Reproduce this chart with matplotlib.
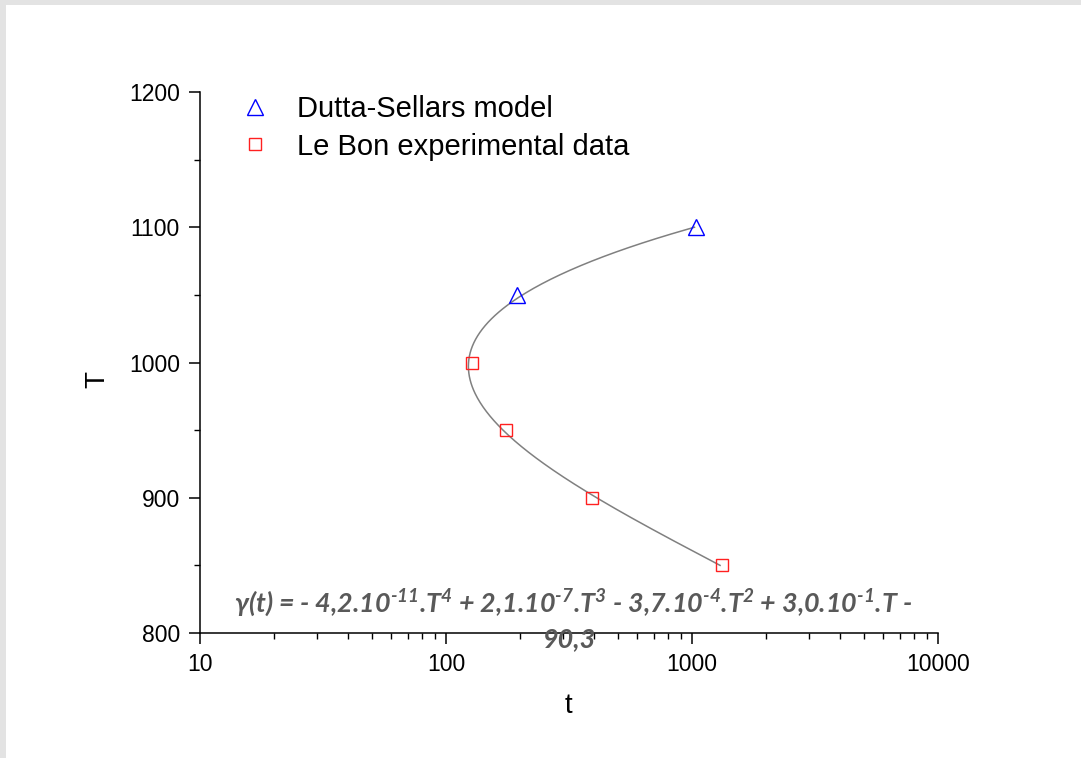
import numpy as np
import matplotlib
matplotlib.use("Agg")
import matplotlib.pyplot as plt
from matplotlib.patches import Rectangle
from matplotlib.ticker import LogLocator, FixedLocator, MultipleLocator, NullFormatter

# ---- data ----
model_t = [1040, 195]
model_T = [1100, 1050]
exp_t = [128, 175, 392, 1320]
exp_T = [1000, 950, 900, 850]
model_label = "Dutta-Sellars model"
exp_label = "Le Bon experimental data"
x_ticks = [10, 100, 1000, 10000]
y_ticks = [800, 900, 1000, 1100, 1200]
eq_line1 = (r"$\gamma$(t) = - 4,2.10$^{\text{-11}}$.T$^{4}$ + 2,1.10$^{\text{-7}}$.T$^{3}$"
            r" - 3,7.10$^{\text{-4}}$.T$^{2}$ + 3,0.10$^{\text{-1}}$.T -")
eq_line2 = "90,3"

plt.rcParams['font.family'] = ['Liberation Sans', 'DejaVu Sans']
plt.rcParams['mathtext.fontset'] = 'custom'
plt.rcParams['mathtext.rm'] = 'Lato:italic:bold'
plt.rcParams['mathtext.it'] = 'Lato:italic:bold'
plt.rcParams['mathtext.bf'] = 'Lato:italic:bold'

W, H = 1081, 758
fig = plt.figure(figsize=(W / 100, H / 100), dpi=100)
fig.patch.set_facecolor('#e3e3e3')
fig.add_artist(Rectangle((6 / W, 0), 1, (H - 5) / H, transform=fig.transFigure,
                         facecolor='white', edgecolor='none', zorder=-10))

ax = fig.add_axes([200 / W, 1 - 633 / H, 738 / W, 541 / H])
ax.set_facecolor('none')

# fitted curve (polynomial fit of log10(t) against T through all points)
all_T = np.array(model_T + exp_T, dtype=float)
all_logt = np.log10(np.array(model_t + exp_t, dtype=float))
coef = np.polyfit(all_T, all_logt, 3)
T_fit = np.linspace(min(all_T), max(all_T), 300)
ax.plot(10 ** np.polyval(coef, T_fit), T_fit, color='#808080', lw=1.1, zorder=2)

ax.plot(model_t, model_T, ls='none', marker='^', ms=11, mfc='none', mec='#0000ff',
        mew=1.0, label=model_label, zorder=3)
ax.plot(exp_t, exp_T, ls='none', marker='s', ms=8.5, mfc='none', mec='#ff2020',
        mew=1.0, label=exp_label, zorder=3)

ax.set_xscale('log')
ax.set_xlim(10, 10000)
ax.set_ylim(800, 1200)
ax.xaxis.set_major_locator(FixedLocator(x_ticks))
ax.set_xticklabels([str(v) for v in x_ticks])
ax.xaxis.set_minor_locator(LogLocator(base=10, subs=np.arange(2, 10)))
ax.xaxis.set_minor_formatter(NullFormatter())
ax.yaxis.set_major_locator(FixedLocator(y_ticks))
ax.set_yticklabels([str(v) for v in y_ticks])
ax.yaxis.set_minor_locator(MultipleLocator(50))

for s in ['top', 'right']:
    ax.spines[s].set_visible(False)
for s in ['left', 'bottom']:
    ax.spines[s].set_linewidth(1.1)
ax.tick_params(which='major', direction='out', length=8, width=1.1, labelsize=16.5, pad=6.5)
ax.tick_params(which='minor', direction='out', length=4.5, width=1.0)
ax.tick_params(axis='y', which='major', pad=6.5)

ax.set_xlabel('t', fontsize=20, va='center')
ax.xaxis.set_label_coords((568 - 200) / 738, (633 - 706) / 541)
ax.set_ylabel('T', fontsize=20, va='center')
ax.yaxis.set_label_coords((97 - 200) / 738, (633 - 380) / 541)

leg = ax.legend(loc='upper left', bbox_to_anchor=(243 / W, 1 - 95 / H),
                bbox_transform=fig.transFigure, frameon=False, fontsize=21,
                borderpad=0, handlelength=0.8, handletextpad=1.04, labelspacing=0.33,
                borderaxespad=0)

# equation annotation
eq_kw = dict(color='#595959', fontfamily='Lato', fontweight='bold', fontstyle='italic',
             ha='center', va='baseline', zorder=10)
t1 = fig.text(573 / W, 1 - 612 / H, eq_line1, fontsize=20, transform=fig.transFigure, **eq_kw)
fig.canvas.draw()
w = t1.get_window_extent().width
fs = 20 * 679 / w
t1.set_fontsize(fs)
fig.text(570 / W, 1 - 647 / H, eq_line2, fontsize=fs, transform=fig.transFigure, **eq_kw)

fig.savefig('out.png', dpi=100, facecolor=fig.get_facecolor())
